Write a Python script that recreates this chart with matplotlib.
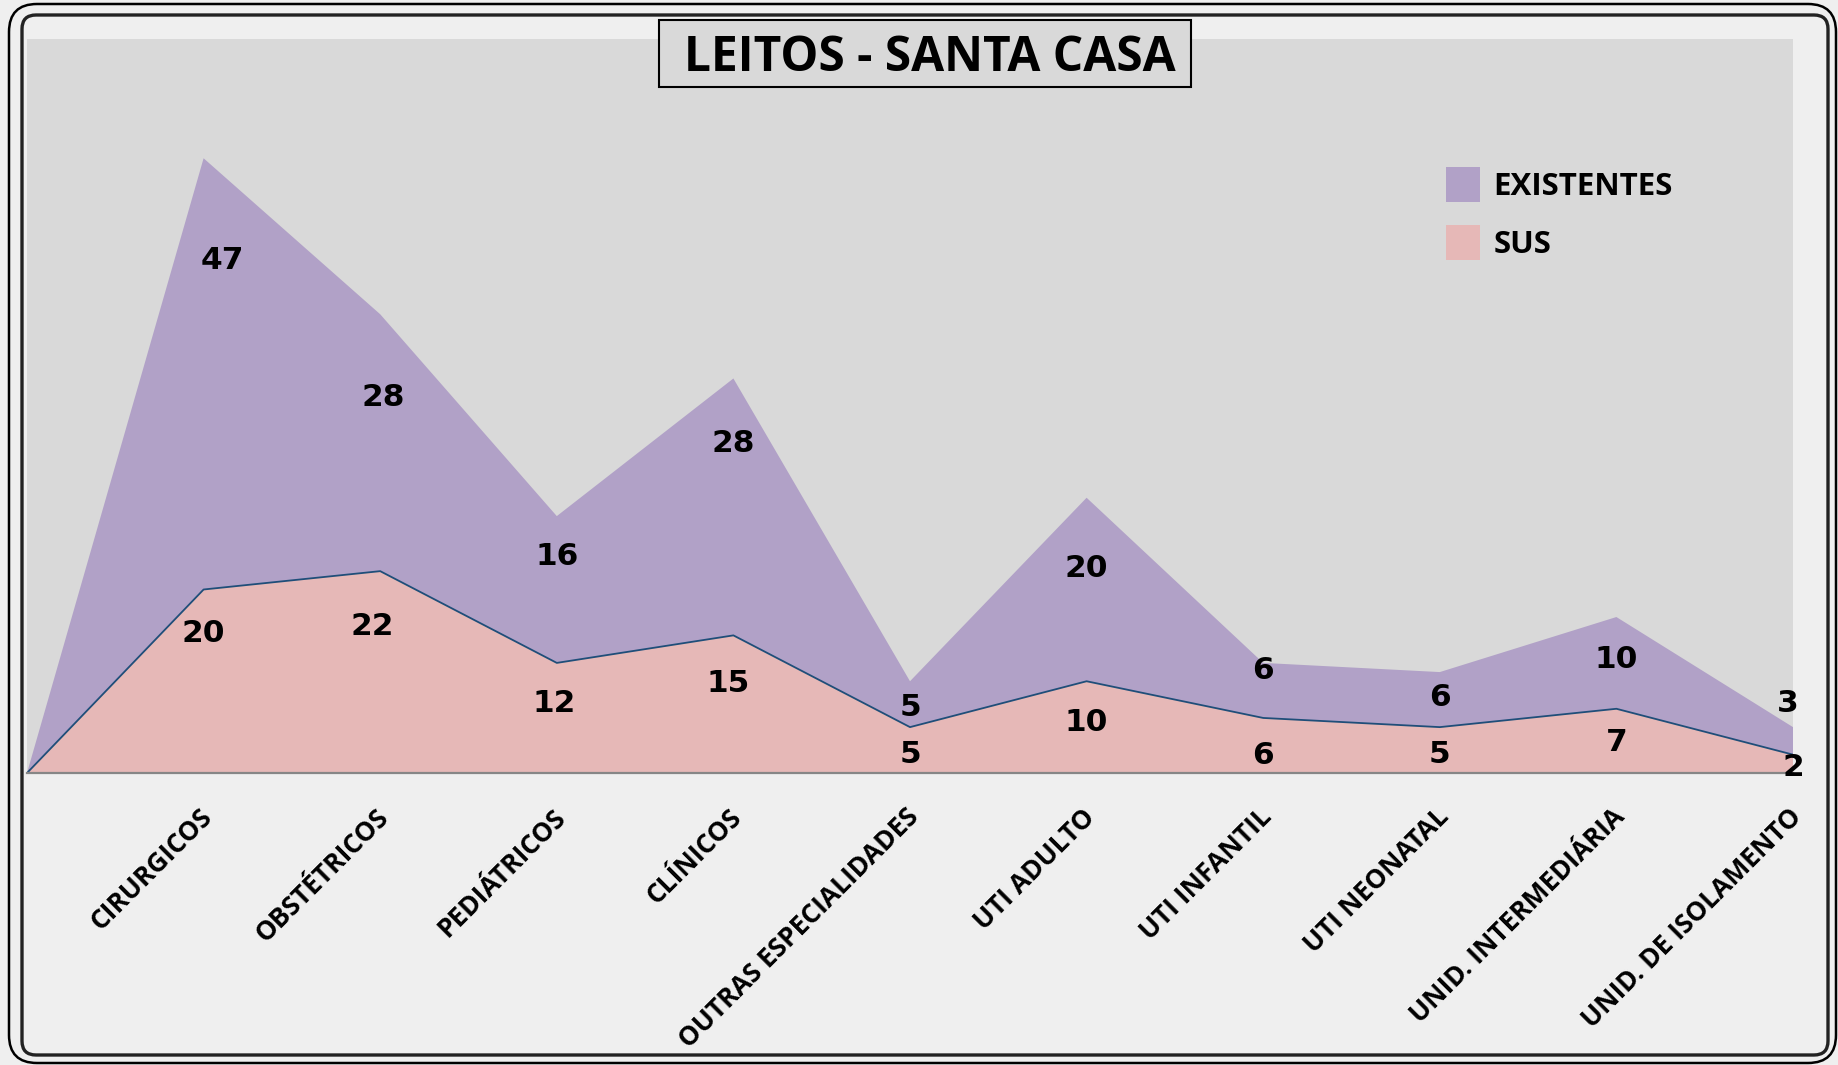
import numpy as np
import matplotlib.pyplot as plt
from matplotlib.patches import Patch, Rectangle, FancyBboxPatch
from matplotlib.transforms import IdentityTransform, ScaledTranslation

# dados do grafico (primeira categoria vazia, como na planilha)
categorias = ['', 'CIRURGICOS', 'OBSTÉTRICOS', 'PEDIÁTRICOS', 'CLÍNICOS',
              'OUTRAS ESPECIALIDADES', 'UTI ADULTO', 'UTI INFANTIL',
              'UTI NEONATAL', 'UNID. INTERMEDIÁRIA', 'UNID. DE ISOLAMENTO']
existentes = [0, 47, 28, 16, 28, 5, 20, 6, 6, 10, 3]
sus = [0, 20, 22, 12, 15, 5, 10, 6, 5, 7, 2]

# ajuste fino da posicao dos rotulos (pixels, abaixo do topo de cada faixa)
ex_dx = [0, 19, 3, 0, 0, 0, 0, 0, 0, 0, -5]
ex_dy = [0, 102, 83, 40, 65, 26, 71, 8, 25, 42, -24]
sus_dx = [0, 0, -8, -3, -5, 0, 0, 0, 0, 0, 0]
sus_dy = [0, 44, 55, 41, 48, 27, 41, 38, 27, 34, 13]

roxo = '#b1a1c7'
rosa = '#e6b8b7'
W, H = 1838, 1065

fig = plt.figure(figsize=(W / 100, H / 100), dpi=100)
fig.patch.set_facecolor('#efefef')

# moldura arredondada dupla
fig.add_artist(FancyBboxPatch((9, 2), 1827, 1059, boxstyle='round,pad=0,rounding_size=28',
                              transform=IdentityTransform(), fc='none', ec='black', lw=1.8))
fig.add_artist(FancyBboxPatch((22, 10), 1806, 1040, boxstyle='round,pad=0,rounding_size=14',
                              transform=IdentityTransform(), fc='none', ec='#222222', lw=2.4))

ax = fig.add_axes([27 / W, 1 - 773 / H, (1793 - 27) / W, (773 - 39) / H])
ax.set_facecolor('#d9d9d9')
x = np.arange(len(categorias))
ax.stackplot(x, sus, existentes, colors=[rosa, roxo], linewidth=0)
ax.plot(x, sus, color='#1f4e79', lw=1.3)
ax.set_xlim(0, len(categorias) - 1)
ax.set_ylim(0, 80)
ax.set_yticks([])
for s in ['top', 'left', 'right']:
    ax.spines[s].set_visible(False)
ax.spines['bottom'].set_color('#868686')
ax.spines['bottom'].set_linewidth(1.6)

ax.set_xticks(x)
ax.set_xticklabels(categorias, rotation=45, ha='right', va='top',
                   fontsize=19, fontweight='bold', family='Open Sans')
ax.tick_params(axis='x', length=0, pad=22)
desloc = ScaledTranslation(0.14, 0, fig.dpi_scale_trans)
for lab in ax.get_xticklabels():
    lab.set_transform(lab.get_transform() + desloc)

total = np.array(sus) + np.array(existentes)
for i in range(1, len(categorias)):
    ax.annotate(str(existentes[i]), xy=(x[i], total[i]), xytext=(ex_dx[i], -ex_dy[i]),
                textcoords='offset pixels', ha='center', va='center',
                fontsize=22.5, fontweight='bold', family='DejaVu Sans')
    ax.annotate(str(sus[i]), xy=(x[i], sus[i]), xytext=(sus_dx[i], -sus_dy[i]),
                textcoords='offset pixels', ha='center', va='center',
                fontsize=22.5, fontweight='bold', family='DejaVu Sans', annotation_clip=False)

# legenda
handles = [Patch(facecolor=roxo, label='EXISTENTES'), Patch(facecolor=rosa, label='SUS')]
leg = ax.legend(handles=handles, loc='upper left', bbox_to_anchor=(1446 / W, 1 - 167 / H),
                bbox_transform=fig.transFigure, frameon=False, borderpad=0, borderaxespad=0,
                handlelength=1.08, handleheight=1.34, handletextpad=0.43, labelspacing=0.75,
                prop={'family': 'Open Sans', 'weight': 'bold', 'size': 22.5})

# titulo com caixa
fig.add_artist(Rectangle((659 / W, 1 - 87 / H), 532 / W, 67 / H, transform=fig.transFigure,
                         fc='#d9d9d9', ec='black', lw=1.5))
fig.text(930 / W, 1 - 71 / H, 'LEITOS - SANTA CASA', ha='center', va='baseline',
         fontsize=34.5, fontweight='bold', family='Open Sans')

fig.savefig('out.png', dpi=100, facecolor=fig.get_facecolor())
